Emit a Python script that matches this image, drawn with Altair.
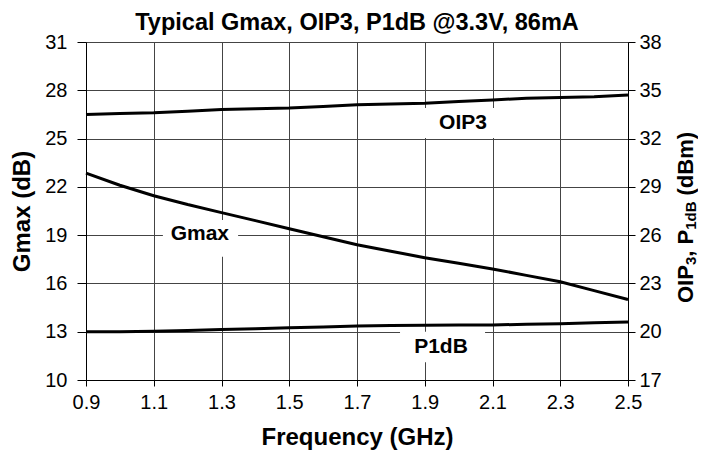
import altair as alt
import pandas as pd

freq = [0.9, 1.0, 1.1, 1.2, 1.3, 1.4, 1.5, 1.6, 1.7, 1.8, 1.9, 2.0, 2.1, 2.2, 2.3, 2.4, 2.5]
gmax = [22.85, 22.1, 21.45, 20.9, 20.4, 19.9, 19.4, 18.9, 18.4, 18.0, 17.6, 17.25, 16.9, 16.5, 16.1, 15.55, 15.0]
oip3 = [33.5, 33.55, 33.6, 33.7, 33.8, 33.85, 33.9, 34.0, 34.1, 34.15, 34.2, 34.3, 34.4, 34.5, 34.55, 34.6, 34.7]
p1db = [20.0, 20.0, 20.03, 20.08, 20.13, 20.18, 20.24, 20.3, 20.36, 20.38, 20.4, 20.41, 20.42, 20.46, 20.5, 20.55, 20.6]

x_ticks = [0.9, 1.1, 1.3, 1.5, 1.7, 1.9, 2.1, 2.3, 2.5]
left_ticks = [10, 13, 16, 19, 22, 25, 28, 31]
right_ticks = [17, 20, 23, 26, 29, 32, 35, 38]

# annotation labels (in left-axis units)
ann_text = ["Gmax", "OIP3", "P1dB"]
ann_x = [1.236, 2.013, 1.948]
ann_y = [19.07, 25.97, 12.06]
ann_x1 = [1.127, 1.886, 1.827]
ann_x2 = [1.349, 2.152, 2.078]
ann_y1 = [17.65, 25.04, 11.1]
ann_y2 = [19.94, 26.9, 13.0]

FONT = "Liberation Sans"

df_g = pd.DataFrame({"f": freq, "v": gmax})
df_r = pd.concat([
    pd.DataFrame({"f": freq, "v": oip3, "s": "OIP3"}),
    pd.DataFrame({"f": freq, "v": p1db, "s": "P1dB"}),
])
df_a = pd.DataFrame({"t": ann_text, "x": ann_x, "y": ann_y,
                     "x1": ann_x1, "x2": ann_x2, "y1": ann_y1, "y2": ann_y2})

xscale = alt.Scale(domain=[0.9, 2.5], nice=False, zero=False)
xaxis = alt.Axis(values=x_ticks, format=".1f", title="Frequency (GHz)",
                 grid=True, gridColor="#444444", gridWidth=1, labelFlush=False,
                 domainColor="black", tickColor="black", tickSize=6,
                 labelFont=FONT, labelFontSize=20, labelColor="black", labelPadding=6,
                 titleFont=FONT, titleFontSize=24, titleFontWeight="bold",
                 titleColor="black", titlePadding=13)
lscale = alt.Scale(domain=[10, 31], nice=False, zero=False)
laxis = alt.Axis(values=left_ticks, title="Gmax (dB)", grid=True,
                 gridColor="#444444", gridWidth=1,
                 domainColor="black", tickColor="black", tickSize=9,
                 labelFont=FONT, labelFontSize=20, labelColor="black", labelPadding=10,
                 titleFont=FONT, titleFontSize=24, titleFontWeight="bold",
                 titleColor="black", titlePadding=10)
rscale = alt.Scale(domain=[17, 38], nice=False, zero=False)
raxis = alt.Axis(values=right_ticks, title=None, grid=False, orient="right",
                 domainColor="black", tickColor="black", tickSize=7,
                 labelFont=FONT, labelFontSize=20, labelColor="black", labelPadding=4)

g_line = alt.Chart(df_g).mark_line(color="black", strokeWidth=3).encode(
    x=alt.X("f:Q", scale=xscale, axis=xaxis),
    y=alt.Y("v:Q", scale=lscale, axis=laxis),
)
boxes = alt.Chart(df_a).mark_rect(fill="white").encode(
    x=alt.X("x1:Q", scale=xscale, axis=xaxis), x2="x2:Q",
    y=alt.Y("y1:Q", scale=lscale, axis=laxis), y2="y2:Q",
)
labels = alt.Chart(df_a).mark_text(font=FONT, fontSize=21, fontWeight="bold",
                                   color="black", align="center", baseline="middle").encode(
    x=alt.X("x:Q", scale=xscale, axis=xaxis),
    y=alt.Y("y:Q", scale=lscale, axis=laxis),
    text="t:N",
)
left = alt.layer(g_line, boxes, labels)

r_line = alt.Chart(df_r).mark_line(color="black", strokeWidth=3).encode(
    x=alt.X("f:Q", scale=xscale, axis=xaxis),
    y=alt.Y("v:Q", scale=rscale, axis=raxis),
    detail="s:N",
)

# right axis title with subscripts, built from pieces (rotated)
MAIN, SUB = 22, 15
title_parts = ["OIP", "3", ",\u00a0P", "1dB", "(dBm)"]
title_sizes = [MAIN, SUB, MAIN, SUB, MAIN]
title_offs = [0, 5, 0, 5, 0]
title_lens = [1.723 * MAIN, 0.556 * SUB, 1.223 * MAIN, 1.889 * SUB + 6, 3.0 * MAIN]
start_y = 261
tpieces = []
pos = start_y
for txt, sz, off, ln in zip(title_parts, title_sizes, title_offs, title_lens):
    tpieces.append(
        alt.Chart(pd.DataFrame({"t": [txt]})).mark_text(
            font=FONT, fontSize=sz, fontWeight="bold", color="black",
            angle=270, align="left", baseline="middle").encode(
            x=alt.value(600 + off), y=alt.value(pos), text="t:N")
    )
    pos -= ln

right = alt.layer(r_line, *tpieces)

chart = alt.layer(left, right).resolve_scale(y="independent").properties(
    width=542, height=338,
    autosize=alt.AutoSizeParams(type="none"),
    padding={"left": 78, "top": 34, "right": 70, "bottom": 72},
    title=alt.TitleParams("Typical Gmax, OIP3, P1dB @3.3V, 86mA", font=FONT,
                          fontSize=23.5, fontWeight="bold", color="black", offset=-2),
).configure_view(stroke=None).configure(background="white")

chart.save("out.html", embed_options={"renderer": "svg", "actions": False})
